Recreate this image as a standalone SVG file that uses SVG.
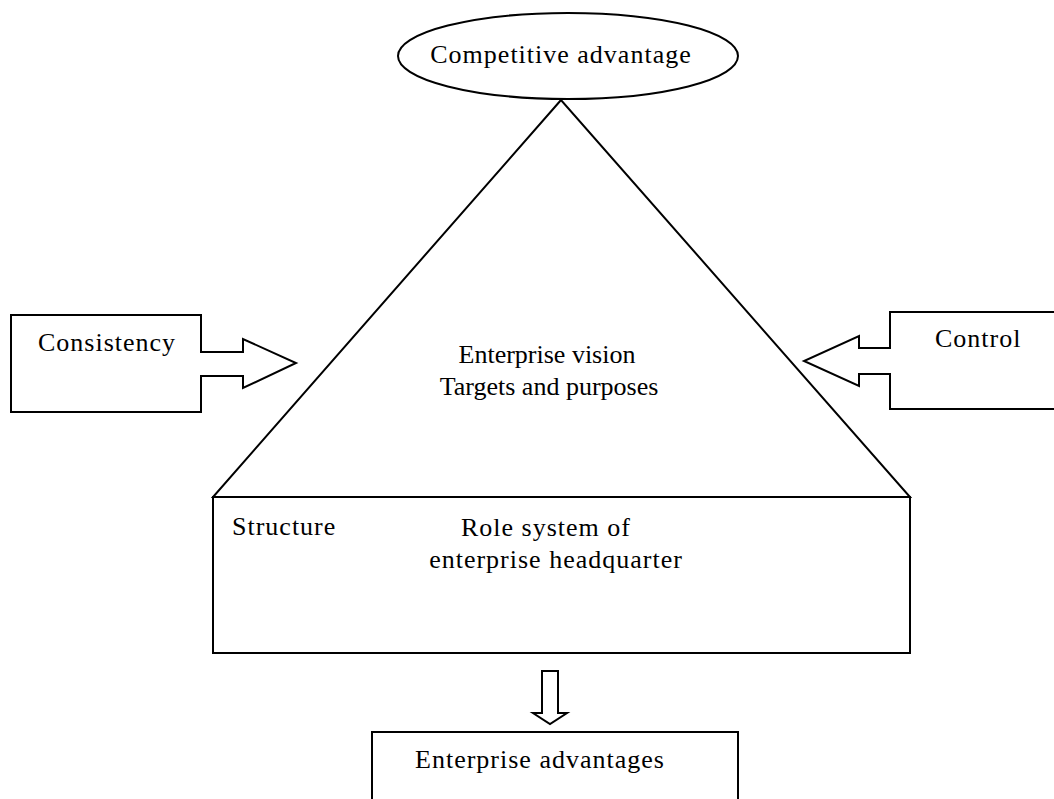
<svg xmlns="http://www.w3.org/2000/svg" width="1054" height="799" viewBox="0 0 1054 799">
<style>
.s{fill:none;stroke:#000;stroke-width:2;stroke-linejoin:miter}
.f{fill:#fff;stroke:#000;stroke-width:2}
text{font-family:"Liberation Serif","Times New Roman",serif;font-size:26px;fill:#000;letter-spacing:1px}
.c{text-anchor:middle}
.n{letter-spacing:0}
</style>
<rect width="1054" height="799" fill="#fff"/>
<g id="top">
<ellipse class="f" cx="568" cy="56" rx="170" ry="43"/>
<text class="c" x="561" y="63">Competitive advantage</text>
</g>
<g id="pyramid">
<polygon class="s" points="561,100 213,497 910,497"/>
<text class="c n" x="547" y="363">Enterprise vision</text>
<text class="c n" x="549" y="395">Targets and purposes</text>
</g>
<g id="structure">
<rect class="s" x="213" y="497" width="697" height="156"/>
<text x="232" y="535">Structure</text>
<text class="c" x="546" y="536">Role system of</text>
<text class="c" x="556" y="568">enterprise headquarter</text>
</g>
<g id="consistency">
<polygon class="s" points="11,315 201,315 201,352 243,352 243,339 296,363 243,388 243,376 201,376 201,412 11,412"/>
<text x="38" y="351">Consistency</text>
</g>
<g id="control">
<polyline class="s" points="1060,312 890,312 890,348 859,348 859,336 804,361 859,386 859,374 890,374 890,409 1060,409"/>
<text x="935" y="347">Control</text>
</g>
<g id="connectors">
<polygon class="s" points="542,671 558,671 558,713 567,713 550,724 533,713 542,713"/>
</g>
<g id="advantages">
<polyline class="s" points="372,805 372,732 738,732 738,805"/>
<text class="c" x="540" y="768">Enterprise advantages</text>
</g>
</svg>
